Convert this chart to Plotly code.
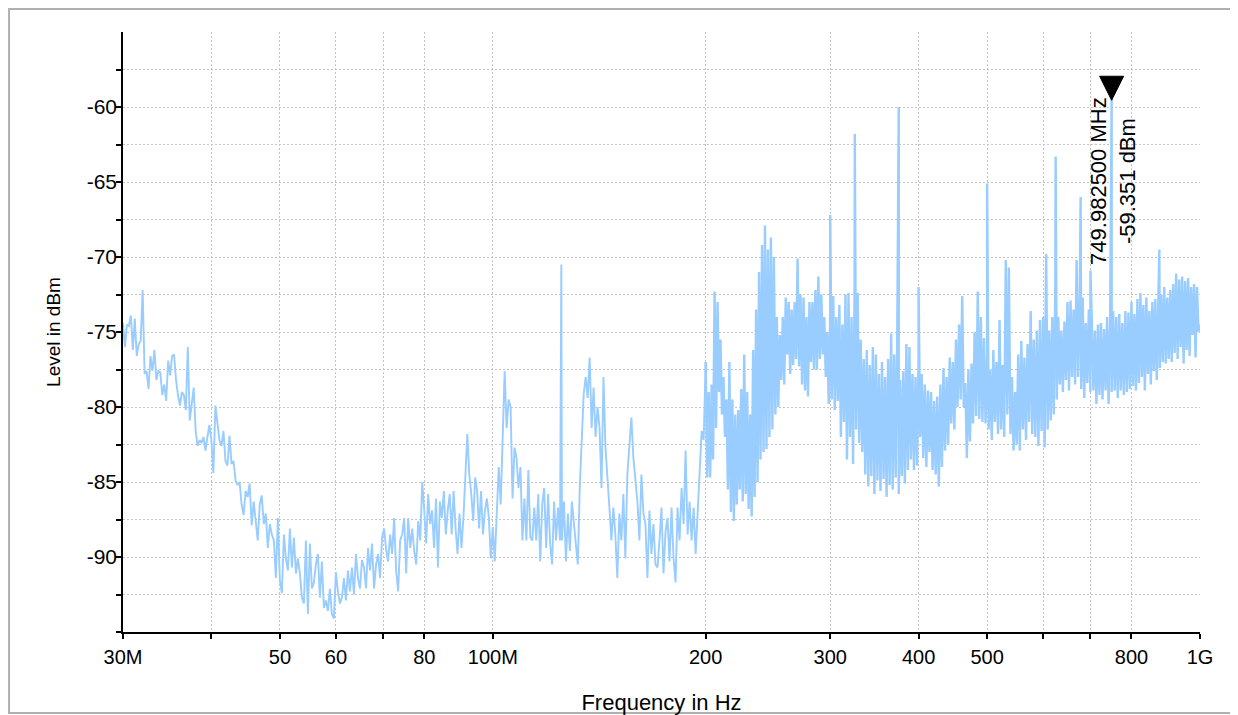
import numpy as np
import plotly.graph_objects as go

# ---------------- data (levels in dBm) ----------------
# Sparse part of the sweep: levels read at evenly spaced screen positions inside each span (MHz)
SPAN_30_40 = (30, 40)
LEV_30_40 = [-74.4, -76.0, -74.5, -74.6, -73.9, -76.2, -74.1, -76.6, -75.8, -75.6, -72.2, -77.8,
             -77.6, -78.8, -76.6, -77.6, -76.2, -78.2, -77.6, -77.7, -79.2, -78.5, -79.6, -76.9,
             -77.9, -76.6, -76.5, -78.2, -79.2, -79.9, -79.0, -79.2, -80.2, -76.0, -80.9, -79.9,
             -78.7, -81.6, -82.6, -82.2, -82.4, -82.0, -82.9, -82.0, -81.2]
SPAN_40_50 = (40, 50)
LEV_40_50 = [-82.2, -84.4, -79.9, -80.9, -82.2, -82.6, -81.6, -83.6, -83.9, -81.9, -83.8, -83.6,
             -84.9, -85.2, -85.0, -86.5, -87.2, -85.6, -86.0, -85.1, -87.9, -86.3, -87.5, -88.9,
             -86.5, -85.9, -87.8, -87.1, -89.4, -87.8, -88.5, -88.9, -91.4, -87.4]
SPAN_50_60 = (50, 60)
LEV_50_60 = [-91.6, -92.4, -88.5, -90.1, -90.9, -88.1, -90.7, -88.7, -91.1, -90.1, -91.1, -92.7,
             -93.1, -88.9, -93.8, -89.1, -92.1, -91.7, -90.5, -89.8, -92.7, -90.3, -93.4, -92.9,
             -93.6, -92.1, -93.8, -94.1]
SPAN_60_80 = (60, 80)
LEV_60_80 = [-91.0, -92.3, -93.1, -92.7, -91.4, -92.9, -90.9, -92.3, -90.7, -92.5, -89.8, -91.4,
             -92.1, -90.2, -90.7, -92.1, -89.4, -90.9, -89.1, -92.1, -90.5, -89.8, -91.4, -88.7,
             -88.1, -89.5, -90.3, -88.5, -89.8, -87.4, -90.9, -92.3, -88.9, -88.5, -87.4, -91.1,
             -87.4, -89.4, -88.1, -89.6, -90.5, -87.6, -88.9, -85.0]
SPAN_80_100 = (80, 100)
LEV_80_100 = [-86.9, -89.1, -85.8, -87.8, -86.9, -89.4, -86.1, -90.7, -86.3, -87.4, -85.6, -88.5,
              -86.9, -85.8, -88.5, -85.6, -88.1, -89.8, -87.1, -89.4, -87.4, -84.5, -81.8, -84.5,
              -85.8, -87.6, -84.7, -85.6, -88.1, -85.6, -88.5, -86.9, -86.1, -87.4, -90.1]
SPAN_100_150 = (100, 150)
LEV_100_150 = [-88.0, -90.3, -87.1, -84.0, -86.5, -82.2, -77.6, -81.4, -79.5, -80.0, -86.1, -82.7,
               -83.4, -85.4, -84.0, -88.9, -86.1, -88.9, -84.2, -88.7, -88.9, -86.7, -88.9, -85.8,
               -90.3, -86.5, -85.4, -89.4, -85.8, -89.1, -90.5, -86.3, -88.9, -86.7, -88.9, -88.9,
               -86.3, -90.3, -87.1, -89.6, -86.3, -87.6, -89.4, -90.5, -85.4, -82.2, -79.1, -78.0,
               -79.4, -76.7, -81.4, -78.7, -82.0, -80.0, -81.4, -85.4, -78.0, -82.7, -84.5, -86.7,
               -88.9, -86.7, -88.5]
SPAN_150_200 = (150, 200)
LEV_150_200 = [-91.4, -87.1, -88.9, -85.8, -90.1, -84.5, -82.2, -80.7, -83.4, -84.9, -86.3, -88.9,
               -84.5, -87.1, -87.8, -91.4, -86.9, -89.8, -87.8, -90.5, -90.7, -88.9, -86.7, -91.1,
               -88.3, -87.4, -90.3, -86.7, -90.1, -91.7, -86.7, -88.9, -85.4, -87.8, -82.9, -88.5,
               -86.3, -88.9, -86.7, -89.8, -86.7, -84.5, -81.6, -82.2]

# Dense part of the sweep: upper / lower excursions of the trace inside each span (MHz)
SPAN_200_300 = (200, 300)
TOP_200_300 = [-77.0, -79.0, -78.5, -72.3, -73.0, -75.5, -78.0, -79.5, -77.0, -79.5, -80.5, -80.2,
               -78.8, -76.5, -79.0, -80.5, -76.2, -73.5, -71.0, -69.2, -67.9, -69.5, -68.7, -70.0,
               -74.0, -75.2, -74.0, -72.7, -73.0, -73.5, -73.0, -70.1, -72.5, -72.7, -74.0, -73.0,
               -73.0, -72.2, -71.3, -72.5, -74.0, -75.0]
BOT_200_300 = [-84.7, -84.7, -83.5, -81.4, -79.0, -80.5, -82.0, -85.5, -87.0, -87.6, -86.5, -85.5,
               -86.3, -85.8, -86.8, -87.3, -86.0, -85.0, -83.5, -83.0, -82.8, -82.0, -81.5, -80.5,
               -80.0, -78.2, -78.5, -76.5, -77.8, -77.2, -76.8, -77.3, -78.5, -78.9, -79.3, -77.0,
               -77.5, -77.5, -76.8, -76.5, -78.0, -79.8]
SPAN_300_400 = (300, 400)
TOP_300_400 = [-73.8, -72.6, -74.0, -73.2, -74.5, -72.5, -72.4, -74.0, -72.0, -72.4, -75.5, -76.8,
               -76.2, -77.2, -76.0, -76.5, -77.8, -77.0, -78.0, -76.8, -75.1, -76.5, -75.4, -78.2,
               -77.6, -75.8, -76.0, -77.8, -78.0]
BOT_300_400 = [-79.5, -80.2, -79.6, -82.0, -81.0, -83.5, -82.0, -83.8, -81.5, -82.4, -83.0, -84.5,
               -85.3, -84.6, -85.8, -84.9, -85.6, -84.8, -86.0, -85.2, -85.5, -84.7, -85.8, -84.6,
               -85.1, -84.2, -83.5, -84.2, -83.9]
SPAN_400_500 = (400, 500)
TOP_400_500 = [-76.7, -77.8, -78.5, -78.9, -79.0, -79.6, -79.3, -78.5, -77.4, -78.0, -76.7, -77.0,
               -75.5, -74.5, -72.6, -78.4, -77.5, -77.1, -75.0, -72.3, -74.0, -75.4]
BOT_400_500 = [-82.0, -83.4, -84.0, -83.0, -84.2, -84.5, -85.3, -84.0, -82.9, -82.5, -81.1, -81.5,
               -80.0, -79.5, -80.0, -83.4, -82.3, -81.1, -80.6, -80.8, -81.0, -81.1]
SPAN_500_600 = (500, 600)
TOP_500_600 = [-76.5, -77.5, -76.2, -77.0, -74.2, -77.2, -70.2, -70.7, -78.0, -79.0, -76.5, -75.6,
               -76.7, -75.8, -73.6, -75.5, -74.9, -74.2]
BOT_500_600 = [-81.5, -82.2, -81.0, -81.8, -81.5, -82.0, -80.5, -81.8, -82.9, -82.5, -82.9, -81.5,
               -82.2, -81.0, -81.8, -82.0, -82.6, -81.6]
SPAN_600_800 = (600, 800)
TOP_600_800 = [-74.0, -69.8, -74.9, -74.0, -72.0, -74.0, -74.9, -74.3, -73.0, -72.9, -73.5, -70.2,
               -73.0, -72.7, -74.4, -73.5, -74.4, -74.9, -74.5, -74.4, -74.8, -74.0, -74.4, -73.6,
               -74.0, -73.8, -74.4, -73.6, -73.7]
BOT_600_800 = [-82.7, -81.5, -80.9, -80.5, -79.5, -78.5, -79.0, -78.2, -78.9, -78.0, -78.5, -78.0,
               -78.8, -79.4, -78.4, -79.0, -78.9, -79.8, -79.2, -79.5, -78.9, -79.8, -79.0, -78.9,
               -79.4, -78.9, -79.2, -79.0, -78.8]
SPAN_800_1000 = (800, 1000)
TOP_800_1000 = [-73.0, -73.8, -72.8, -72.4, -73.2, -72.7, -73.6, -73.0, -72.8, -73.2, -72.5, -72.0,
                -72.7, -72.2, -71.8, -71.1, -71.5, -71.3, -71.6, -71.4, -72.0, -71.8, -72.0]
BOT_800_1000 = [-78.6, -78.9, -78.4, -78.0, -78.9, -77.8, -78.5, -77.6, -78.2, -77.4, -77.0, -77.1,
                -76.8, -77.0, -76.4, -76.8, -76.0, -77.1, -76.2, -76.6, -75.2, -76.7, -75.0]
STOP_FREQ_MHZ = 1000
STOP_LEVEL = -74.5

# Narrow carriers (MHz, dBm)
SPIKE_FREQ_MHZ = [125.0, 300.0, 325.0, 375.0, 400.0, 500.0, 625.0, 678.0, 700.0, 749.9825, 876.0]
SPIKE_LEVEL = [-70.5, -67.2, -61.8, -60.0, -72.0, -65.1, -63.3, -66.0, -70.9, -59.351, -69.5]

# Marker
MARKER_FREQ_MHZ = 749.9825
MARKER_LEVEL = -59.351

# Axis ticks
X_TICK_MHZ = [30, 40, 50, 60, 70, 80, 100, 200, 300, 400, 500, 600, 700, 800, 1000]
X_TICK_TEXT = ["30M", "", "50", "60", "", "80", "100M", "200", "300", "400", "500", "", "", "800", "1G"]
Y_TICKS = [-95, -92.5, -90, -87.5, -85, -82.5, -80, -77.5, -75, -72.5, -70, -67.5, -65, -62.5, -60, -57.5]
Y_TICK_TEXT = ["", "", "-90", "", "-85", "", "-80", "", "-75", "", "-70", "", "-65", "", "-60", ""]

DENSE_FROM_MHZ = 200

# ---------------- assemble sweep ----------------
freqs, levels = [], []

def add_span(span, vals):
    f = np.geomspace(span[0], span[1], len(vals), endpoint=False)
    freqs.extend(f.tolist())
    levels.extend(vals)

def add_dense(span, top, bot):
    vals = []
    for t, b in zip(top, bot):
        vals.extend([t, b])
    add_span(span, vals)

add_span(SPAN_30_40, LEV_30_40)
add_span(SPAN_40_50, LEV_40_50)
add_span(SPAN_50_60, LEV_50_60)
add_span(SPAN_60_80, LEV_60_80)
add_span(SPAN_80_100, LEV_80_100)
add_span(SPAN_100_150, LEV_100_150)
add_span(SPAN_150_200, LEV_150_200)
add_dense(SPAN_200_300, TOP_200_300, BOT_200_300)
add_dense(SPAN_300_400, TOP_300_400, BOT_300_400)
add_dense(SPAN_400_500, TOP_400_500, BOT_400_500)
add_dense(SPAN_500_600, TOP_500_600, BOT_500_600)
add_dense(SPAN_600_800, TOP_600_800, BOT_600_800)
add_dense(SPAN_800_1000, TOP_800_1000, BOT_800_1000)
freqs.append(STOP_FREQ_MHZ)
levels.append(STOP_LEVEL)
freqs.extend(SPIKE_FREQ_MHZ)
levels.extend(SPIKE_LEVEL)

order = np.argsort(freqs, kind="stable")
f_mhz = np.asarray(freqs)[order]
lev = np.asarray(levels)[order]

sparse = f_mhz < DENSE_FROM_MHZ
first_dense = int(np.argmax(~sparse))
sp_idx = np.r_[np.nonzero(sparse)[0], first_dense]
de_idx = np.nonzero(~sparse)[0]

FONT = "Liberation Sans, Arial, sans-serif"
TRACE_COLOR = "#99CCFF"

fig = go.Figure()
fig.add_trace(go.Scatter(
    x=f_mhz[sp_idx] * 1e6, y=lev[sp_idx], mode="lines",
    line=dict(color=TRACE_COLOR, width=1.9),
    showlegend=False, hoverinfo="skip",
))
fig.add_trace(go.Scatter(
    x=f_mhz[de_idx] * 1e6, y=lev[de_idx], mode="lines",
    line=dict(color=TRACE_COLOR, width=2.4),
    showlegend=False, hoverinfo="skip",
))

# marker triangle (pixel-sized, anchored to the marker data point)
fig.add_shape(
    type="path", xref="x", yref="y",
    xsizemode="pixel", ysizemode="pixel",
    xanchor=MARKER_FREQ_MHZ * 1e6, yanchor=MARKER_LEVEL,
    path="M-12,21 L12,21 L0,-3 Z",
    fillcolor="black", line=dict(color="black", width=1),
)
fig.add_annotation(
    x=np.log10(MARKER_FREQ_MHZ * 1e6), y=MARKER_LEVEL, xref="x", yref="y",
    text=f"{MARKER_FREQ_MHZ:.6f} MHz<br>{MARKER_LEVEL:.3f} dBm",
    textangle=-90, showarrow=False, xanchor="center", yanchor="middle",
    yshift=-84, xshift=2, font=dict(family=FONT, size=22, color="black"),
)

# outer frame
fig.add_shape(
    type="rect", xref="paper", yref="paper",
    x0=-0.1058, x1=1.0297, y0=-0.135, y1=1.0383,
    line=dict(color="#b0b0b0", width=2), fillcolor="rgba(0,0,0,0)", layer="below",
)

# the page body adds an 8 px offset, so the figure is 8 px smaller than the window
fig.update_layout(
    width=1230, height=707,
    margin=dict(l=115, r=38, t=24, b=83, autoexpand=False),
    paper_bgcolor="white", plot_bgcolor="white",
    font=dict(family=FONT, size=20, color="black"),
    xaxis=dict(
        type="log", range=[np.log10(30e6), np.log10(1e9)],
        tickvals=[v * 1e6 for v in X_TICK_MHZ], ticktext=X_TICK_TEXT,
        showline=True, linecolor="black", linewidth=1.5,
        ticks="outside", ticklen=5, tickcolor="black", tickwidth=1.5,
        showgrid=True, gridcolor="#c4c4c4", gridwidth=1, griddash="2px,2px",
        zeroline=False, ticklabelstandoff=1, automargin=False,
        tickfont=dict(size=20),
        title=dict(text="Frequency in Hz", standoff=28, font=dict(size=22)),
    ),
    yaxis=dict(
        range=[-95, -55], tickvals=Y_TICKS, ticktext=Y_TICK_TEXT,
        showline=True, linecolor="black", linewidth=1.5,
        ticks="outside", ticklen=5, tickcolor="black", tickwidth=1.5,
        showgrid=True, gridcolor="#c4c4c4", gridwidth=1, griddash="2px,2px",
        zeroline=False, automargin=False, ticklabelstandoff=-5,
        tickfont=dict(size=21),
        title=dict(text="Level in dBm", standoff=21, font=dict(size=19)),
    ),
)

fig.write_html("out.html")
